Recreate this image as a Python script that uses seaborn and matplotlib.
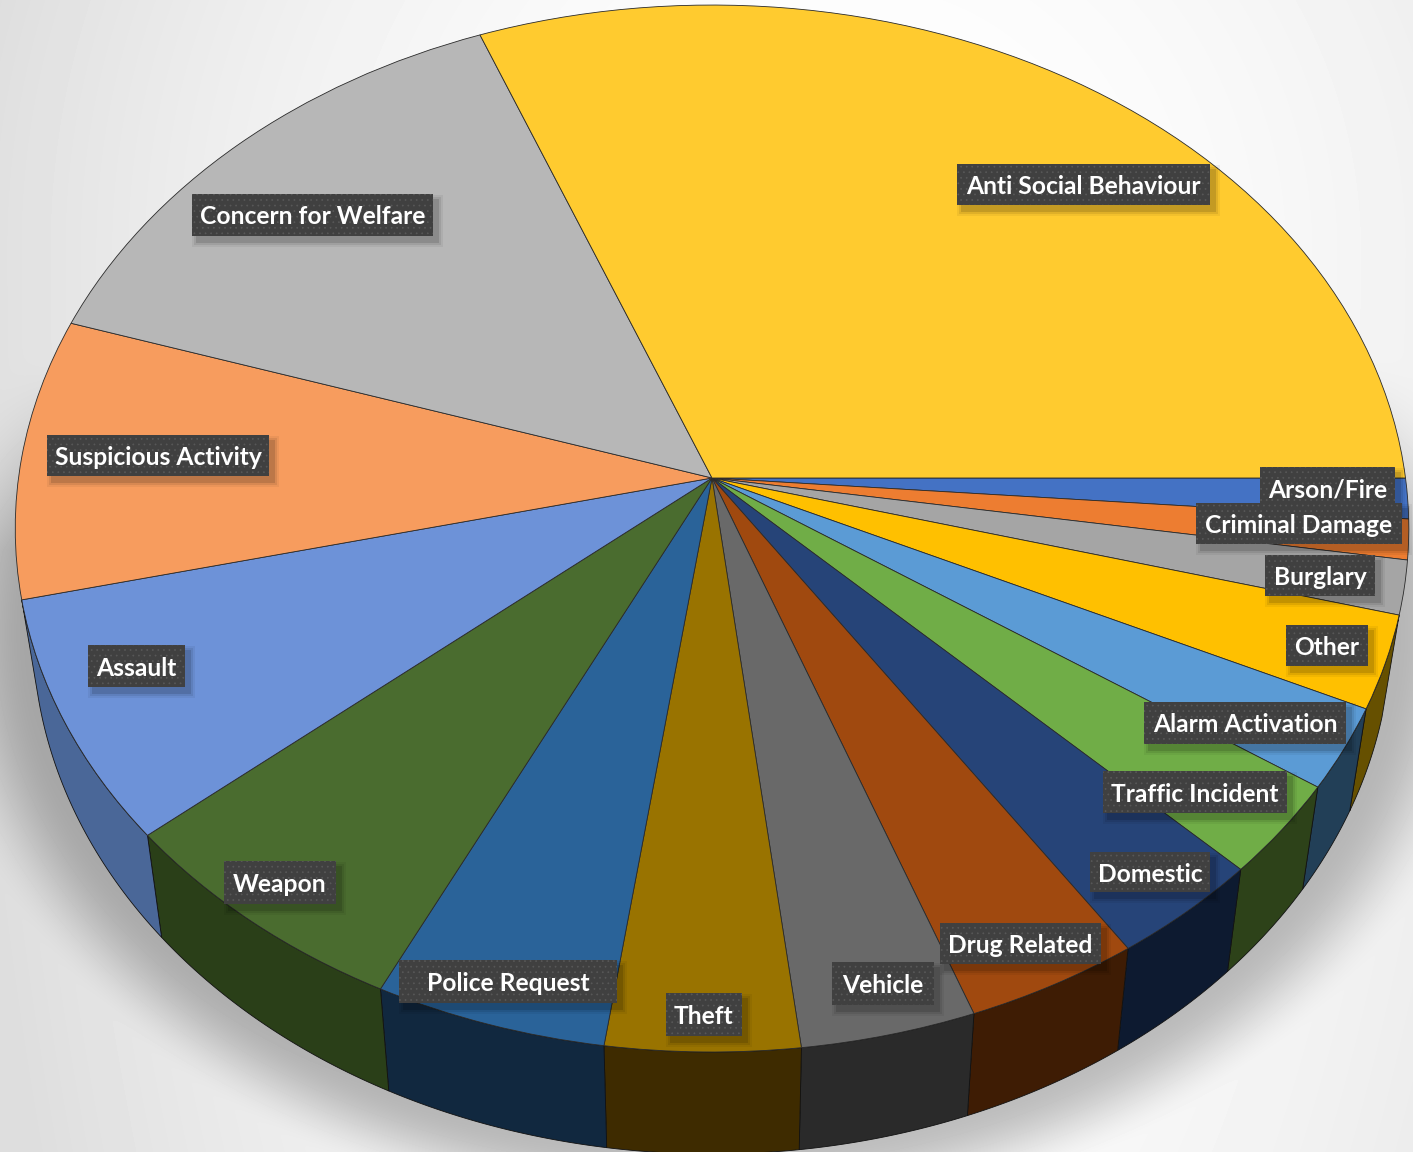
import numpy as np
import matplotlib
matplotlib.use('Agg')
import matplotlib.pyplot as plt
import seaborn as sns
from matplotlib.patches import Rectangle
from matplotlib.transforms import Transform

# share of each category in %, clockwise from the right hand side
categories = ['Arson/Fire', 'Criminal Damage', 'Burglary', 'Other', 'Alarm Activation',
              'Traffic Incident', 'Domestic', 'Drug Related', 'Vehicle', 'Theft',
              'Police Request', 'Weapon', 'Assault', 'Suspicious Activity',
              'Concern for Welfare', 'Anti Social Behaviour']
shares = [1.25, 1.24, 1.66, 2.87, 2.51, 2.89, 3.28, 3.72, 3.72, 4.11,
          4.94, 6.63, 7.49, 8.66, 14.09, 30.94]

top_colors = ['#4472C4', '#ED7D31', '#A5A5A5', '#FFC000', '#5B9BD5', '#70AD47',
              '#264478', '#A0490F', '#696969', '#997300', '#2A6399', '#4A6C2F',
              '#6D92D8', '#F79C5E', '#B7B7B7', '#FFCB2F']
side_colors = ['#2A4678', '#8E4B1E', '#636363', '#665000', '#223F57', '#2D4219',
               '#0D1A30', '#3E1C04', '#2A2A2A', '#3E2B00', '#11283F', '#2A3F18',
               '#4A6798', '#94603A', '#6E6E6E', '#99791C']

# label boxes in picture pixels: left, right, top, bottom
label_boxes = [(1260, 1395, 467, 508), (1196, 1402, 503, 544), (1265, 1375, 555, 596),
               (1286, 1368, 625, 666), (1144, 1346, 702, 744), (1103, 1287, 771, 813),
               (1090, 1210, 852, 892), (940, 1101, 923, 964), (832, 934, 962, 1005),
               (666, 742, 993, 1036), (399, 617, 960, 1003), (224, 336, 861, 904),
               (88, 185, 645, 687), (47, 269, 435, 476), (192, 433, 194, 236),
               (957, 1210, 164, 205)]

W, H = 1413, 1152
CX, CY = 712, 478      # apex of the pie
A, B, K = 693.5, 518.6, 0.0965   # perspective of the disc
DEPTH, SHRINK = 102, 0.975       # lower rim against upper rim


def project(u, v, lower=False):
    x = A * u / (1 + K * v)
    y = CY - B * v / (1 + K * v)
    if lower:
        return CX + SHRINK * x, y + DEPTH
    return CX + x, y


class Perspective(Transform):
    input_dims = 2
    output_dims = 2
    is_affine = False
    has_inverse = False

    def transform_non_affine(self, values):
        x, y = project(values[:, 0], values[:, 1])
        return np.column_stack([x, y])


sns.set_theme(style='white')
plt.rcParams['font.family'] = ['Lato', 'DejaVu Sans']
plt.rcParams['hatch.linewidth'] = 0.5

fig = plt.figure(figsize=(W / 100, H / 100), dpi=100)
ax = fig.add_axes([0, 0, 1, 1])

# pie on the unit circle, then pushed through the perspective
wedges, _ = ax.pie(shares, colors=sns.color_palette(top_colors), startangle=0,
                   counterclock=False, radius=1, frame=False,
                   wedgeprops={'edgecolor': '#2a2a2a', 'linewidth': 0.6, 'zorder': 3})
persp = Perspective() + ax.transData
for w in wedges:
    w.set_transform(persp)
    w.set_clip_on(False)

ax.set_aspect('auto')
ax.set_xlim(0, W)
ax.set_ylim(H, 0)
ax.axis('off')

# background: soft vignette and shadow below the disc
yy, xx = np.mgrid[0:H, 0:W]
dy = np.where(yy < 250, yy - 250, (yy - 250) * 0.4)
dist = np.hypot(xx - 850, dy)
shade = np.clip((dist / 886) ** 2, 0, 1) * 33
e = np.hypot((xx - CX) / 680, (yy - 628) / 523)
t = np.clip((e - 1) / 0.16, 0, 1)
fade = np.clip((yy - 350) / 200, 0, 1)
shadow = 60 * (1 - t * t * (3 - 2 * t)) * fade
ax.imshow(255 - shade - shadow, cmap='gray', vmin=0, vmax=255, extent=(0, W, H, 0),
          aspect='auto', zorder=0)

# side walls from the same wedges, only the ones facing the viewer
side_palette = sns.color_palette(side_colors)
for w, col in zip(wedges, side_palette):
    if np.sin(np.radians((w.theta1 + w.theta2) / 2)) > -0.3:
        continue
    th = np.radians(np.linspace(w.theta1, w.theta2, 40))
    xt, yt = project(np.cos(th), np.sin(th))
    xb, yb = project(np.cos(th), np.sin(th), lower=True)
    ax.fill(np.r_[xt, xb[::-1]], np.r_[yt, yb[::-1]], facecolor=col,
            edgecolor='#111111', linewidth=0.6, zorder=2, clip_on=False)

# data labels
for name, (left, right, top, bottom) in zip(categories, label_boxes):
    for grow, alpha in [(5, 0.05), (3, 0.08), (1, 0.12)]:
        ax.add_patch(Rectangle((left + 5 - grow, top + 6 - grow), right - left + 2 * grow,
                               bottom - top + 2 * grow, facecolor='black', alpha=alpha,
                               linewidth=0, zorder=4))
    ax.add_patch(Rectangle((left, top), right - left, bottom - top, facecolor='#404040',
                           edgecolor='#585858', hatch='...', linewidth=0, zorder=5))
    ax.text((left + right) / 2, (top + bottom) / 2 + 2, name, color='white', fontsize=17.7,
            fontweight='bold', ha='center', va='center', zorder=6)

fig.savefig('out.png', dpi=100)
plt.close(fig)
